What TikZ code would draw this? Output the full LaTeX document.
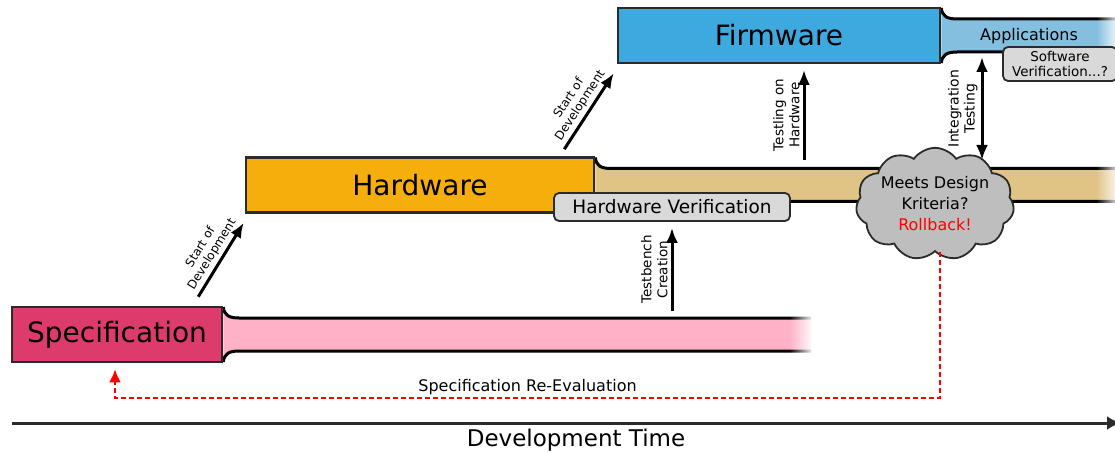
\documentclass[tikz,border=0pt]{standalone}
\usepackage{fontspec}
\setmainfont{DejaVu Sans}
\usetikzlibrary{positioning,calc,arrows.meta,shapes.symbols,fadings,backgrounds}

\definecolor{specred}{HTML}{DC3B6B}
\definecolor{specpink}{HTML}{FFB1C8}
\definecolor{hworange}{HTML}{F5AE0B}
\definecolor{hwtan}{HTML}{DFC486}
\definecolor{fwblue}{HTML}{3DA9DF}
\definecolor{fwlight}{HTML}{84BFDF}
\definecolor{checkgray}{HTML}{D9D9D9}
\definecolor{cloudgray}{HTML}{BEBEBE}
\definecolor{boxline}{HTML}{2B2B2B}

\begin{document}
\begin{tikzpicture}[x=1pt, y=-1pt,
    phase/.style = {draw=boxline, line width=2.5pt, minimum height=55pt, inner sep=0pt, font=\fontsize{28}{32}\selectfont},
    band/.style = {line width=3pt},
    check/.style = {draw=boxline, line width=1.8pt, fill=checkgray, rounded corners=5pt, inner sep=0pt},
    arr/.style = {line width=3pt, -{Latex[length=15pt, width=12pt]}},
    twoarr/.style = {line width=3pt, {Latex[length=15pt, width=12pt]}-{Latex[length=15pt, width=12pt]}},
    lbl/.style = {align=center, inner sep=3pt, font=\fontsize{13.5}{16}\selectfont}]
    \useasboundingbox (0,0) rectangle (1115,454);

    % Phases
    \node[phase, fill=specred, minimum width=210pt]  (spec) at (117,334.5) {Specification};
    \node[phase, fill=hworange, minimum width=348pt] (hw)   at (420,185)   {Hardware};
    \node[phase, fill=fwblue, minimum width=322pt]   (fw)   at (779,35.5)  {Firmware};

    % Bands behind the phases
    \begin{scope}[on background layer]
      \foreach \ph/\len/\col in {spec/588/specpink, hw/523/hwtan, fw/177/fwlight} {
        \begin{scope}[shift={(\ph.east)}]
          \fill[\col] (0,-27.5) .. controls (1,-19) and (6,-16.5) .. (16,-16.5) -- (\len,-16.5)
            -- (\len,16.5) -- (16,16.5) .. controls (6,16.5) and (1,19) .. (0,27.5) -- cycle;
          \draw[band] (0,-27.5) .. controls (1,-19) and (6,-16.5) .. (16,-16.5) -- (\len,-16.5);
          \draw[band] (0,27.5) .. controls (1,19) and (6,16.5) .. (16,16.5) -- (\len,16.5);
          \fill[white, path fading=west] (\len-22,-20) rectangle (\len+2,20);
        \end{scope}
      }
    \end{scope}

    % Checks
    \node[font=\fontsize{16}{18}\selectfont] (apps) at (1029,36) {Applications};
    \node[check, minimum width=236pt, minimum height=28pt, font=\fontsize{18.5}{20}\selectfont] (hwv) at (672,207) {Hardware Verification};
    \node[check, minimum width=114pt, minimum height=34pt, align=center, font=\fontsize{13.5}{15}\selectfont] (swv) at (1060,64) {Software\\Verification...?};
    \node[cloud, cloud puffs=11, cloud puff arc=110, aspect=1.6, draw=boxline, line width=1.8pt, fill=cloudgray,
          inner sep=-1pt, align=center, font=\fontsize{16}{21}\selectfont] (crit) at (935,204)
          {Meets Design\\Kriteria?\\\textcolor{red}{Rollback!}};

    % Free ends
    \coordinate (tbfoot) at (672,311);
    \coordinate (thfoot) at (804,160);
    \coordinate (thtip)  at (804,70);
    \coordinate (itfoot) at (982,160);
    \coordinate (ittop)  at (982,57);
    \coordinate (reval)  at (115,398);
    \coordinate (t0)     at (12,423);
    \coordinate (t1)     at (1121,423);

    % Connections
    \draw[arr] ($(spec.north east)+(-25,-9)$) -- node[lbl, above, sloped, font=\fontsize{12}{13.5}\selectfont] {Start of\\Development} ($(hw.south west)+(-1,9)$);
    \draw[arr] ($(hw.north east)+(-31,-7)$) -- node[lbl, above, sloped, font=\fontsize{12}{13.5}\selectfont] {Start of\\Development} ($(fw.south west)+(-3,9)$);
    \draw[arr] (tbfoot) -- node[lbl, above, sloped] {Testbench\\Creation} ($(hwv.south)+(0,6)$);
    \draw[arr] (thfoot) -- node[lbl, above, sloped] {Testling on\\Hardware} (thtip);
    \draw[twoarr] (itfoot) -- node[lbl, above, sloped, font=\fontsize{14}{16}\selectfont] {Integration\\Testing} (ittop);
    \draw[red, line width=2.5pt, dash pattern=on 5pt off 3pt, -{Latex[length=13pt, width=12pt]}] ($(crit.south)+(5,0)$)
      |- node[pos=0.75, above, text=black, inner sep=2pt, font=\fontsize{16}{18}\selectfont] {Specification Re-Evaluation} (reval)
      -- ($(spec.south)+(-2,6)$);

    % Time axis
    \draw[boxline, line width=3pt, -{Latex[length=14pt, width=14pt]}] (t0) -- (t1);
    \node[font=\fontsize{23}{25}\selectfont] (dt) at (576,440) {Development Time};
\end{tikzpicture}
\end{document}
